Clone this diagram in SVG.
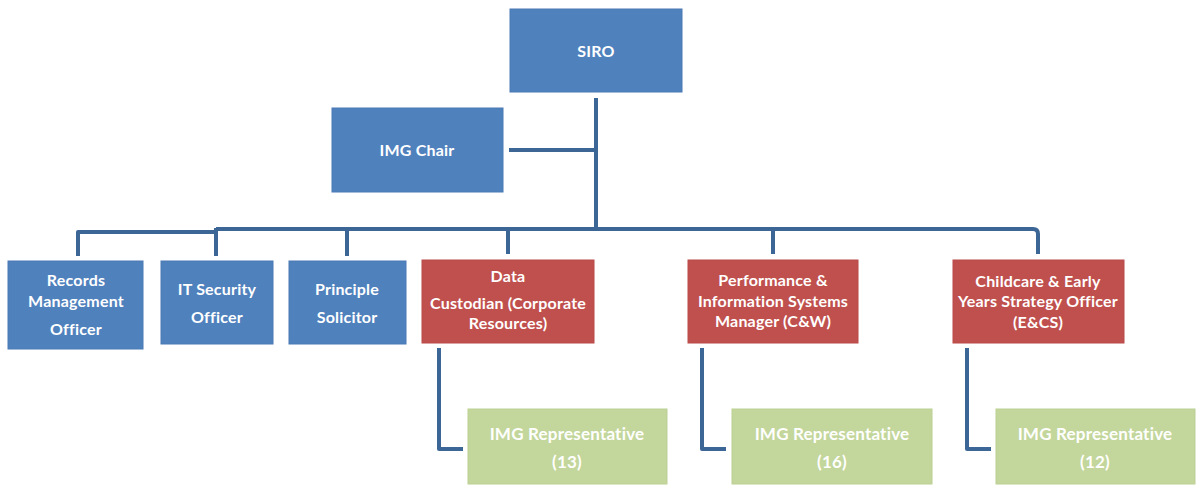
<svg xmlns="http://www.w3.org/2000/svg" width="1196" height="485" viewBox="0 0 1196 485">
<style>
.b{fill:#4f81bd;stroke:#4a7ab5;stroke-width:1}
.r{fill:#c0504d;stroke:#b84b48;stroke-width:1}
.g{fill:#c3d69b;stroke:#bccf94;stroke-width:1}
.c{fill:none;stroke:#3c6696;stroke-width:4;stroke-linejoin:round}
text{font-family:Lato,"Liberation Sans",sans-serif;font-weight:bold;font-size:16px;letter-spacing:0.2px;fill:#ffffff;text-anchor:middle}
.g17{font-size:17px}
</style>
<rect width="1196" height="485" fill="#ffffff"/>
<g id="connectors">
<path class="c" d="M596 98 V230"/>
<path class="c" d="M509 150 H596"/>
<path class="c" d="M596 229 H216 M216 232 H78 V256"/>
<path class="c" d="M216 228 V256"/>
<path class="c" d="M347 229 V256"/>
<path class="c" d="M508 228 V254"/>
<path class="c" d="M596 229 H1033 Q1038 229 1038 234 V254"/>
<path class="c" d="M773 229 V254"/>
<path class="c" d="M439 348 V449 H463"/>
<path class="c" d="M702 348 V449 H726"/>
<path class="c" d="M967 348 V449 H991"/>
</g>
<g id="siro"><rect class="b" x="510" y="9" width="172" height="83"/><text x="596" y="57">SIRO</text></g>
<g id="img-chair"><rect class="b" x="332" y="108" width="171" height="84"/><text x="417" y="156">IMG Chair</text></g>
<g id="records"><rect class="b" x="8" y="261" width="135" height="88"/><text x="76" y="286">Records</text><text x="76" y="307">Management</text><text x="76" y="335">Officer</text></g>
<g id="it-security"><rect class="b" x="161" y="261" width="112" height="83"/><text x="217" y="295">IT Security</text><text x="217" y="323">Officer</text></g>
<g id="principle"><rect class="b" x="289" y="261" width="117" height="83"/><text x="347" y="295">Principle</text><text x="347" y="323">Solicitor</text></g>
<g id="data-custodian"><rect class="r" x="422" y="260" width="172" height="83"/><text x="508" y="282">Data</text><text x="508" y="309">Custodian (Corporate</text><text x="508" y="329">Resources)</text></g>
<g id="performance"><rect class="r" x="688" y="260" width="170" height="83"/><text x="773" y="286">Performance &amp;</text><text x="773" y="307">Information Systems</text><text x="773" y="327">Manager (C&amp;W)</text></g>
<g id="childcare"><rect class="r" x="953" y="260" width="171" height="83"/><text x="1038" y="287">Childcare &amp; Early</text><text x="1038" y="307">Years Strategy Officer</text><text x="1038" y="328">(E&amp;CS)</text></g>
<g id="rep13"><rect class="g" x="468" y="409" width="199" height="75"/><text class="g17" x="567" y="440">IMG Representative</text><text class="g17" x="567" y="468">(13)</text></g>
<g id="rep16"><rect class="g" x="732" y="409" width="200" height="75"/><text class="g17" x="832" y="440">IMG Representative</text><text class="g17" x="832" y="468">(16)</text></g>
<g id="rep12"><rect class="g" x="996" y="409" width="199" height="75"/><text class="g17" x="1095" y="440">IMG Representative</text><text class="g17" x="1095" y="468">(12)</text></g>
</svg>
